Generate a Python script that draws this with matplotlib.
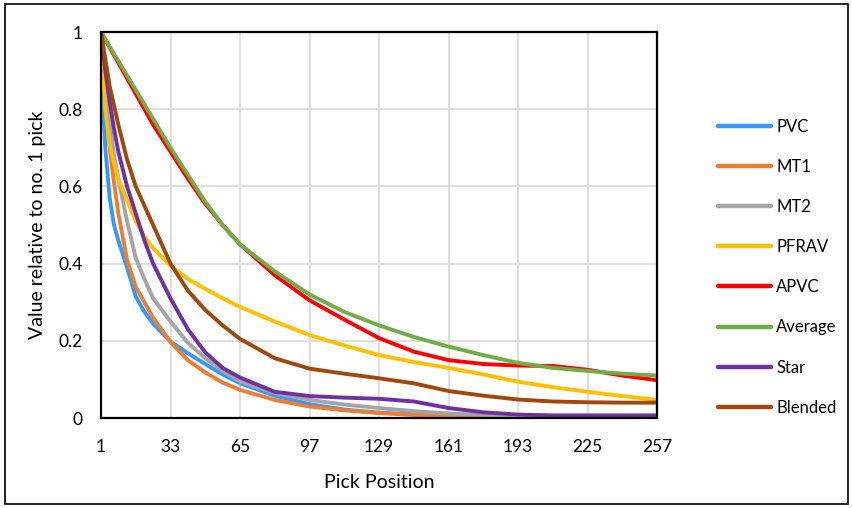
import matplotlib
matplotlib.use("Agg")
import matplotlib.pyplot as plt
from matplotlib.patches import Rectangle

plt.rcParams['font.family'] = ['Lato', 'DejaVu Sans']

# x positions for each series
x_pvc = [1, 2, 3, 5, 7, 9, 13, 17, 21, 25, 33, 41, 49, 57, 65, 81, 97, 113, 129, 145, 161, 177, 193, 209, 225, 241, 257]
pvc = [1, 0.8, 0.7, 0.57, 0.5, 0.46, 0.39, 0.315, 0.275, 0.245, 0.198, 0.168, 0.14, 0.113, 0.09, 0.058, 0.036, 0.022, 0.014, 0.01, 0.007, 0.005, 0.004, 0.003, 0.003, 0.003, 0.003]

x_mt1 = [1, 2, 3, 5, 7, 9, 13, 17, 21, 25, 33, 41, 49, 57, 65, 81, 97, 113, 129, 145, 161, 177, 193, 209, 225, 241, 257]
mt1 = [1, 0.9, 0.82, 0.7, 0.61, 0.53, 0.41, 0.34, 0.3, 0.26, 0.197, 0.15, 0.118, 0.092, 0.073, 0.047, 0.03, 0.02, 0.013, 0.008, 0.005, 0.004, 0.003, 0.003, 0.003, 0.003, 0.003]

x_mt2 = [1, 3, 5, 7, 9, 11, 13, 17, 21, 25, 33, 41, 49, 57, 65, 81, 97, 113, 129, 145, 161, 177, 193, 209, 225, 241, 257]
mt2 = [1, 0.87, 0.77, 0.68, 0.62, 0.565, 0.51, 0.415, 0.36, 0.31, 0.25, 0.195, 0.155, 0.122, 0.095, 0.065, 0.047, 0.035, 0.026, 0.018, 0.012, 0.008, 0.005, 0.004, 0.004, 0.004, 0.004]

x_pfrav = [1, 2, 3, 5, 7, 9, 13, 17, 21, 25, 33, 41, 49, 57, 65, 81, 97, 113, 129, 145, 161, 177, 193, 209, 225, 241, 257]
pfrav = [1, 0.9, 0.8, 0.71, 0.66, 0.62, 0.565, 0.51, 0.47, 0.44, 0.395, 0.36, 0.335, 0.31, 0.288, 0.25, 0.215, 0.188, 0.163, 0.145, 0.13, 0.113, 0.094, 0.08, 0.068, 0.057, 0.047]

x_apvc = [1, 9, 17, 25, 33, 41, 49, 57, 65, 81, 97, 113, 129, 145, 161, 177, 193, 209, 225, 241, 257]
apvc = [1, 0.92, 0.84, 0.76, 0.69, 0.62, 0.555, 0.5, 0.45, 0.37, 0.305, 0.255, 0.207, 0.172, 0.15, 0.14, 0.136, 0.135, 0.125, 0.11, 0.098]

x_avg = [1, 9, 17, 25, 33, 41, 49, 57, 65, 81, 97, 113, 129, 145, 161, 177, 193, 209, 225, 241, 257]
average = [1, 0.925, 0.85, 0.775, 0.70, 0.63, 0.56, 0.5, 0.45, 0.38, 0.32, 0.275, 0.24, 0.21, 0.185, 0.163, 0.143, 0.13, 0.122, 0.115, 0.11]

x_star = [1, 3, 5, 7, 9, 13, 17, 21, 25, 33, 41, 49, 57, 65, 81, 97, 113, 129, 145, 161, 177, 193, 209, 225, 241, 257]
star = [1, 0.9, 0.82, 0.75, 0.69, 0.6, 0.53, 0.46, 0.4, 0.31, 0.23, 0.17, 0.13, 0.105, 0.068, 0.057, 0.053, 0.05, 0.043, 0.026, 0.015, 0.009, 0.007, 0.007, 0.007, 0.007]

x_blend = [1, 5, 9, 13, 17, 21, 25, 33, 41, 49, 57, 65, 81, 97, 113, 129, 145, 161, 177, 193, 209, 225, 241, 257]
blended = [1, 0.86, 0.76, 0.67, 0.6, 0.55, 0.5, 0.4, 0.33, 0.28, 0.24, 0.205, 0.155, 0.128, 0.115, 0.103, 0.09, 0.07, 0.058, 0.048, 0.043, 0.041, 0.04, 0.04]

labels = ["PVC", "MT1", "MT2", "PFRAV", "APVC", "Average", "Star", "Blended"]
colors = ["#3399FF", "#ED7D31", "#A5A5A5", "#FFC000", "#FF0000", "#70AD47", "#7030A0", "#9E480E"]
series = [(x_pvc, pvc), (x_mt1, mt1), (x_mt2, mt2), (x_pfrav, pfrav),
          (x_apvc, apvc), (x_avg, average), (x_star, star), (x_blend, blended)]

x_ticks = [1, 33, 65, 97, 129, 161, 193, 225, 257]
y_ticks = [0, 0.2, 0.4, 0.6, 0.8, 1]
y_ticklabels = ["0", "0.2", "0.4", "0.6", "0.8", "1"]

fig = plt.figure(figsize=(8.52, 5.08), dpi=100)
ax = fig.add_axes([0.1185, 0.177, 0.653, 0.760])

lines = []
for (xs, ys), lab, col in zip(series, labels, colors):
    ln, = ax.plot(xs, ys, color=col, lw=2.8, label=lab, solid_capstyle='round', solid_joinstyle='round')
    lines.append(ln)

ax.set_xlim(1, 257)
ax.set_ylim(0, 1)
ax.set_xticks(x_ticks)
ax.set_yticks(y_ticks)
ax.set_yticklabels(y_ticklabels)
ax.tick_params(length=0, labelsize=12.5, colors='black')
ax.tick_params(axis='x', pad=15)
ax.tick_params(axis='y', pad=13)
ax.grid(True, color='#D9D9D9', lw=1.2)
ax.set_axisbelow(True)
for s in ax.spines.values():
    s.set_color('black')
    s.set_linewidth(1.6)

ax.set_xlabel("Pick Position", fontsize=14, labelpad=14)
ax.set_ylabel("Value relative to no. 1 pick", fontsize=14, labelpad=9)

leg = fig.legend(handles=lines, labels=labels, loc='center left',
                 bbox_to_anchor=(0.825, 0.474), frameon=False, fontsize=12,
                 handlelength=3.2, handletextpad=0.3, labelspacing=1.45)
for h in leg.get_lines():
    h.set_linewidth(3.2)
    h.set_solid_capstyle('round')

fig.patches.append(Rectangle((0.006, 0.008), 0.989, 0.984, transform=fig.transFigure,
                             fill=False, edgecolor='black', lw=1.2))

fig.savefig("out.png", dpi=100)
